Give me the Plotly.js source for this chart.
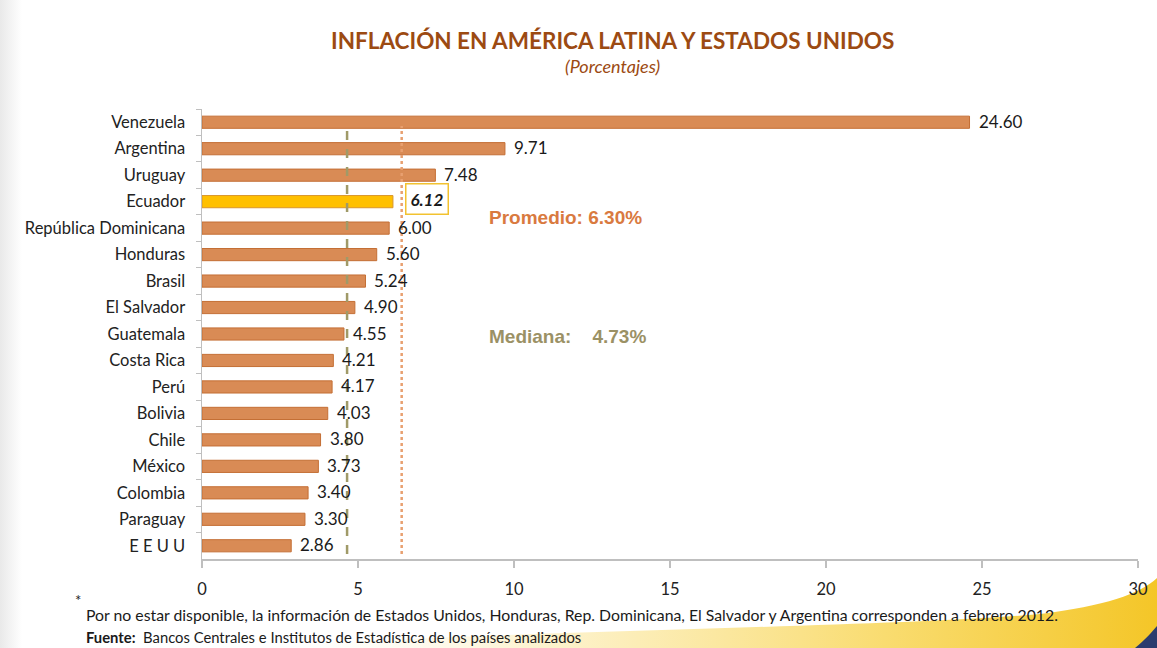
<!DOCTYPE html>
<html>
<head>
<meta charset="utf-8">
<script src="https://cdn.plot.ly/plotly-3.0.1.min.js"></script>
<style>
  html, body { margin: 0; padding: 0; background: #ffffff; }
  #wrap { position: relative; width: 1157px; height: 648px; overflow: hidden; }
  #bg { position: absolute; left: 0; top: 0; }
  #chart { position: absolute; left: 0; top: 0; width: 1157px; height: 648px; }
</style>
</head>
<body>
<div id="wrap">
<svg id="bg" width="1157" height="648">
  <defs>
    <linearGradient id="sw" x1="0" y1="0" x2="1" y2="0">
      <stop offset="0" stop-color="#ffffff" stop-opacity="0"/>
      <stop offset="0.3" stop-color="#fdf3cf" stop-opacity="0.9"/>
      <stop offset="0.7" stop-color="#f9dc70" stop-opacity="1"/>
      <stop offset="1" stop-color="#f4c628" stop-opacity="1"/>
    </linearGradient>
    <linearGradient id="lg" x1="0" y1="0" x2="1" y2="0">
      <stop offset="0" stop-color="#e9e9e9"/>
      <stop offset="1" stop-color="#ffffff"/>
    </linearGradient>
  </defs>
  <rect x="0" y="0" width="22" height="648" fill="url(#lg)"/>
  <path d="M 250 648 C 500 630, 880 628, 1040 614 C 1105 606, 1140 594, 1157 578 L 1157 648 Z" fill="url(#sw)"/>
  <path d="M 1135 648 C 1145 640, 1152 632, 1157 626 L 1157 648 Z" fill="#2b3c6e"/>
</svg>
<div id="chart"></div>
</div>
<script>
const paises = ["Venezuela","Argentina","Uruguay","Ecuador","República Dominicana","Honduras","Brasil","El Salvador","Guatemala","Costa Rica","Perú","Bolivia","Chile","México","Colombia","Paraguay","E E U U"];
const inflacion = [24.60, 9.71, 7.48, 6.12, 6.00, 5.60, 5.24, 4.90, 4.55, 4.21, 4.17, 4.03, 3.80, 3.73, 3.40, 3.30, 2.86];
const etiquetas = ["24.60","9.71","7.48","6.12","6.00","5.60","5.24","4.90","4.55","4.21","4.17","4.03","3.80","3.73","3.40","3.30","2.86"];
const destacado = "Ecuador";
const promedioTexto = "Promedio: 6.30%";
const medianaTexto = "Mediana:    4.73%";
const lineaPromedio = 6.40;   // position
const lineaMediana = 4.65;    // position
const xTicks = [0, 5, 10, 15, 20, 25, 30];

const fillColors = paises.map(p => p === destacado ? "#FFC000" : "#D98B55");
const lineColors = paises.map(p => p === destacado ? "#D9962A" : "#C46F35");

const FONT = "Lato, 'Open Sans', sans-serif";

const trace = {
  type: "bar",
  orientation: "h",
  x: inflacion,
  y: paises,
  width: 0.46,
  marker: { color: fillColors, line: { color: lineColors, width: 1 } },
  hoverinfo: "none"
};

const annotations = paises.map((p, i) => {
  const hi = p === destacado;
  return {
    x: inflacion[i], y: p, xref: "x", yref: "y",
    text: hi ? "<b><i>" + etiquetas[i] + "</i></b>" : etiquetas[i],
    showarrow: false, xanchor: "left", yanchor: "middle",
    xshift: hi ? 12 : 9, yshift: hi ? 3 : 1,
    font: { family: FONT, size: 17, color: "#1a1a1a" },
    bordercolor: hi ? "#F2C230" : "rgba(0,0,0,0)",
    borderwidth: hi ? 1.5 : 0, borderpad: hi ? 4 : 0,
    bgcolor: hi ? "#ffffff" : "rgba(0,0,0,0)"
  };
});

const L = 202, R = 19, T = 109, B = 89, W = 1157, H = 648;
const pw = W - L - R, ph = H - T - B;
function px(x) { return (x - L) / pw; }
function py(y) { return (H - B - y) / ph; }

annotations.push({
  x: px(487), y: py(217), xref: "paper", yref: "paper", text: "<b>" + promedioTexto + "</b>",
  showarrow: false, xanchor: "left", yanchor: "middle",
  font: { family: "'Liberation Sans', Arial, sans-serif", size: 19, color: "#D97A3F" }
});
annotations.push({
  x: px(487), y: py(336), xref: "paper", yref: "paper", text: "<b>" + medianaTexto.replace(/ /g, "&nbsp;") + "</b>",
  showarrow: false, xanchor: "left", yanchor: "middle",
  font: { family: "'Liberation Sans', Arial, sans-serif", size: 19, color: "#9B9165" }
});
annotations.push({
  x: px(612), xref: "paper", y: py(40), yref: "paper",
  xanchor: "center", yanchor: "middle", showarrow: false,
  text: "<b>INFLACIÓN EN AMÉRICA LATINA Y ESTADOS UNIDOS</b>",
  font: { family: FONT, size: 22.5, color: "#9C4A12" }
});
annotations.push({
  x: px(612), xref: "paper", y: py(66), yref: "paper",
  xanchor: "center", yanchor: "middle", showarrow: false,
  text: "<i>(Porcentajes)</i>",
  font: { family: FONT, size: 18, color: "#9C4A12" }
});
annotations.push({
  x: px(73), xref: "paper", y: py(600), yref: "paper",
  xanchor: "left", yanchor: "middle", showarrow: false,
  text: "*", font: { family: FONT, size: 15, color: "#222" }
});
annotations.push({
  x: px(84), xref: "paper", y: py(614), yref: "paper",
  xanchor: "left", yanchor: "middle", showarrow: false,
  text: "Por no estar disponible, la información de Estados Unidos, Honduras, Rep. Dominicana, El Salvador y Argentina corresponden a febrero 2012.",
  font: { family: FONT, size: 15.8, color: "#1a1a1a" }
});
annotations.push({
  x: px(84), xref: "paper", y: py(637), yref: "paper",
  xanchor: "left", yanchor: "middle", showarrow: false,
  text: "<b>Fuente:</b>  Bancos Centrales e Institutos de Estadística de los países analizados",
  font: { family: FONT, size: 14.8, color: "#1a1a1a" }
});

const shapes = [
  { type: "line", xref: "x", yref: "paper", x0: lineaMediana, x1: lineaMediana, y0: py(554), y1: py(126),
    line: { color: "#A09A68", width: 2.5, dash: "dash" } },
  { type: "line", xref: "x", yref: "paper", x0: lineaPromedio, x1: lineaPromedio, y0: py(554), y1: py(126),
    line: { color: "#E8A070", width: 2.5, dash: "dot" } }
];

const layout = {
  width: W, height: H,
  margin: { l: L, r: R, t: T, b: B, pad: 0 },
  paper_bgcolor: "rgba(0,0,0,0)",
  plot_bgcolor: "rgba(0,0,0,0)",
  showlegend: false,
  xaxis: {
    range: [0, 30], tickvals: xTicks, ticktext: xTicks.map(String),
    showgrid: false, zeroline: false,
    showline: true, linecolor: "#BFBFBF", linewidth: 1.5,
    ticks: "outside", ticklen: 7, tickcolor: "#BFBFBF", tickwidth: 1.5,
    ticklabelstandoff: 8,
    tickfont: { family: FONT, size: 16.5, color: "#222" },
    fixedrange: true
  },
  yaxis: {
    type: "category", autorange: "reversed",
    showgrid: false, zeroline: false,
    showline: true, linecolor: "#BFBFBF", linewidth: 1.5,
    ticks: "outside", ticklen: 5, tickcolor: "#BFBFBF", tickson: "boundaries",
    ticklabelstandoff: 12,
    tickfont: { family: FONT, size: 16.5, color: "#222" },
    fixedrange: true
  },
  annotations: annotations,
  shapes: shapes
};

Plotly.newPlot("chart", [trace], layout, { displayModeBar: false, staticPlot: true });
</script>
</body>
</html>
